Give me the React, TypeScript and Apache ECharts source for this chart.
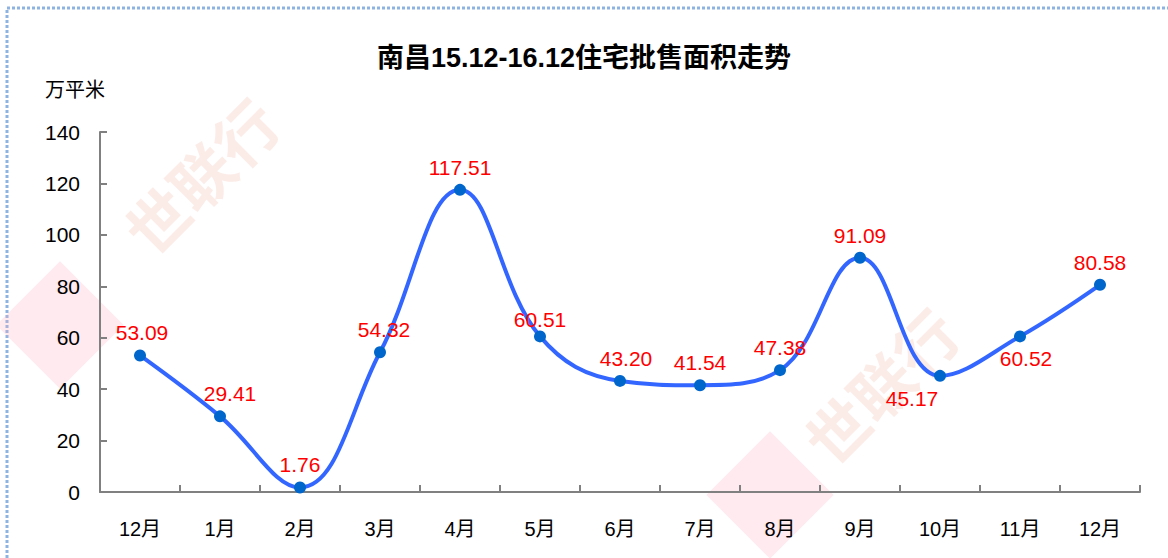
import React, { useEffect, useRef } from "react";
import * as echarts from "echarts";

const categories = ["12月", "1月", "2月", "3月", "4月", "5月", "6月", "7月", "8月", "9月", "10月", "11月", "12月"];
const values = [53.09, 29.41, 1.76, 54.32, 117.51, 60.51, 43.2, 41.54, 47.38, 91.09, 45.17, 60.52, 80.58];
const labelPositions = ["top", "top", "top", "top", "top", "top", "top", "top", "top", "top", "bottom", "bottom", "top"];
const labelOffsets = [[2, 0], [10, 0], [0, 0], [4, 0], [0, 0], [0, 6], [6, 0], [0, 0], [0, 0], [0, 0], [-28, 0], [6, 0], [0, 0]];
const titleText = "南昌15.12-16.12住宅批售面积走势";
const yName = "万平米";
const yTicks = { min: 0, max: 140, interval: 20 };

const FONT = "'Liberation Sans', 'Noto Sans CJK SC', sans-serif";

export default function App() {
  const ref = useRef<HTMLDivElement>(null);
  useEffect(() => {
    if (!ref.current) return;
    const chart = echarts.init(ref.current, null, { renderer: "svg" });
    chart.setOption({
      animation: false,
      textStyle: { fontFamily: FONT },
      title: {
        text: titleText,
        left: "center",
        top: 39,
        textStyle: { fontSize: 27, fontWeight: "bold", color: "#000", fontFamily: FONT },
      },
      graphic: [
        {
          type: "rect",
          shape: { x: 7, y: 8, width: 1175, height: 570 },
          style: { fill: "none", stroke: "#8DB3E2", lineWidth: 3, lineDash: [3, 2] },
          silent: true,
          z: -10,
        },
        {
          type: "text",
          x: 200,
          y: 175,
          rotation: Math.PI / 4,
          style: { text: "世联行", fontSize: 62, fill: "rgba(235,170,150,0.22)", align: "center", verticalAlign: "middle", fontFamily: "'Noto Sans CJK SC', sans-serif", fontWeight: "bold" },
          silent: true,
          z: -5,
        },
        {
          type: "rect",
          x: 60,
          y: 325,
          rotation: Math.PI / 4,
          shape: { x: -45, y: -45, width: 90, height: 90 },
          style: { fill: "rgba(250,170,190,0.25)" },
          silent: true,
          z: -5,
        },
        {
          type: "text",
          x: 880,
          y: 385,
          rotation: Math.PI / 4,
          style: { text: "世联行", fontSize: 62, fill: "rgba(235,170,150,0.22)", align: "center", verticalAlign: "middle", fontFamily: "'Noto Sans CJK SC', sans-serif", fontWeight: "bold" },
          silent: true,
          z: -5,
        },
        {
          type: "rect",
          x: 770,
          y: 495,
          rotation: Math.PI / 4,
          shape: { x: -45, y: -45, width: 90, height: 90 },
          style: { fill: "rgba(250,170,190,0.25)" },
          silent: true,
          z: -5,
        },
      ],
      grid: { left: 100, right: 28, top: 132, bottom: 66 },
      xAxis: {
        type: "category",
        data: categories,
        boundaryGap: true,
        axisLine: { lineStyle: { color: "#808080", width: 2 } },
        axisTick: { show: true, inside: true, length: 7, lineStyle: { color: "#808080", width: 2 } },
        axisLabel: { color: "#000", fontSize: 20, margin: 27, fontFamily: FONT },
        splitLine: { show: false },
      },
      yAxis: {
        type: "value",
        min: yTicks.min,
        max: yTicks.max,
        interval: yTicks.interval,
        name: yName,
        nameLocation: "end",
        nameGap: 32,
        nameTextStyle: { color: "#000", fontSize: 20, align: "center", padding: [0, 50, 0, 0], fontFamily: FONT },
        axisLine: { show: true, lineStyle: { color: "#808080", width: 2 } },
        axisTick: { show: true, inside: true, length: 7, lineStyle: { color: "#808080", width: 2 } },
        axisLabel: { color: "#000", fontSize: 21, margin: 20, fontFamily: FONT },
        splitLine: { show: false },
      },
      series: [
        {
          type: "line",
          smooth: 0.4,
          data: values.map((v, i) => ({
            value: v,
            label: { position: labelPositions[i], offset: labelOffsets[i] },
          })),
          symbol: "circle",
          symbolSize: 12,
          lineStyle: { color: "#3366FF", width: 4 },
          itemStyle: { color: "#0066CC" },
          label: {
            show: true,
            color: "#FF0000",
            fontSize: 21,
            distance: 6,
            fontFamily: FONT,
            formatter: (p: any) => Number(p.value).toFixed(2),
          },
          z: 3,
        },
      ],
    });
    return () => chart.dispose();
  }, []);
  return <div ref={ref} style={{ position: "fixed", left: 0, top: 0, width: 1168, height: 558, background: "#fff" }} />;
}
